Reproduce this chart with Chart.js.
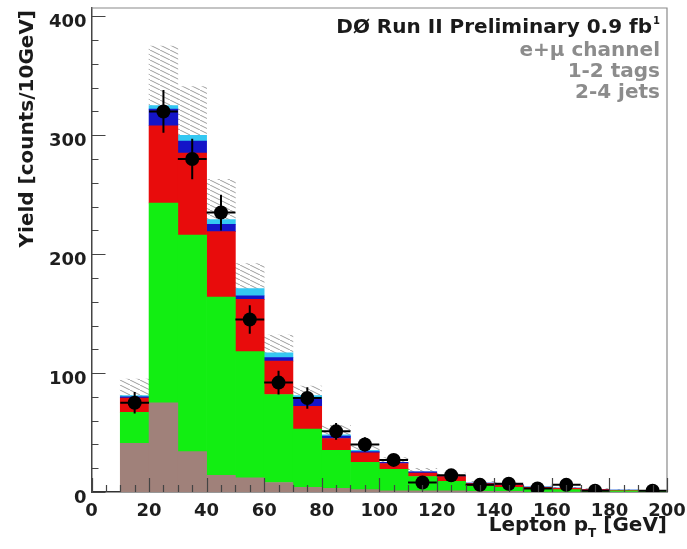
<!DOCTYPE html>
<html>
<head>
<meta charset="utf-8">
<script src="https://cdn.jsdelivr.net/npm/chart.js@4.4.1/dist/chart.umd.min.js"></script>
<style>
  html, body { margin: 0; padding: 0; background: #ffffff; }
  #wrap { width: 687px; height: 549px; position: relative; }
</style>
</head>
<body>
<div id="wrap"><canvas id="c" width="687" height="549"></canvas></div>
<script>
// Lepton pT bins (GeV): centres of 10 GeV wide bins from 10 to 200
const binCenters = [15, 25, 35, 45, 55, 65, 75, 85, 95, 105, 115, 125, 135, 145, 155, 165, 175, 185, 195];

// Stacked predictions, counts per 10 GeV (bottom to top)
const multijet  = [41, 75, 34, 14, 12, 8, 4, 3, 2, 1, 1, 1, 0.5, 0.5, 0, 0, 0, 0, 0];
const wJets     = [26, 168, 182, 150, 106, 74, 49, 32, 23, 18, 12, 8, 4.5, 3.5, 3, 2, 1.5, 1, 1];
const ttbar     = [12, 65, 69, 55, 44, 28, 19, 10, 8, 5, 3, 4, 2, 2, 1, 1, 0.5, 0.5, 0];
const zJets     = [1, 14, 10, 6, 3, 3, 6, 2, 1, 1, 1, 0.5, 0.5, 0.5, 0.2, 0.2, 0.1, 0.1, 0.1];
const singleTop = [1, 3, 5, 4, 6, 4, 3, 1, 1, 0, 0, 0.5, 0, 0, 0.1, 0.1, 0.1, 0, 0];
// Systematic band drawn on top of the prediction
const mcUncert  = [14, 50, 41, 34, 21, 15, 8, 8, 5, 4, 3, 2, 1.5, 1.5, 0.7, 0.7, 0.8, 0.4, 0.4];

// Observed events and their statistical errors
const dataCounts = [75, 320, 280, 235, 145, 92, 79, 51, 40, 27, 8, 14, 6, 7, 3, 6, 1, null, 1];
const dataErrors = [9, 18, 17, 15, 12, 10, 9, 7, 6, 5, 3, 4, 2.5, 2.6, 1.7, 2.5, 1, null, 1];

const binHalfWidth = 5;
const xTickLabels = [0, 20, 40, 60, 80, 100, 120, 140, 160, 180, 200];
const yTickLabels = [0, 100, 200, 300, 400];

const FONT = "'DejaVu Sans', 'Liberation Sans', sans-serif";

function toXY(values) {
  return binCenters.map((x, i) => ({ x: x, y: values[i] }));
}

function makeHatch(ctx) {
  const c = document.createElement('canvas');
  c.width = 10; c.height = 5;
  const g = c.getContext('2d');
  g.strokeStyle = '#9c9c9c';
  g.lineWidth = 1;
  g.beginPath();
  for (const dx of [-10, 0, 10]) { g.moveTo(dx, 0); g.lineTo(dx + 10, 5); }
  g.stroke();
  return ctx.createPattern(c, 'repeat');
}

const canvas = document.getElementById('c');
const ctx = canvas.getContext('2d');

// Error bars, inward ticks, tick labels, frame and annotation text
const decorations = {
  id: 'decorations',
  afterDatasetsDraw(chart) {
    const { x, y } = chart.scales;
    const g = chart.ctx;
    g.save();
    g.strokeStyle = '#000';
    g.lineWidth = 2;
    binCenters.forEach((c, i) => {
      const v = dataCounts[i];
      if (v === null) return;
      const e = dataErrors[i];
      const px = x.getPixelForValue(c);
      const py = y.getPixelForValue(v);
      g.beginPath();
      g.moveTo(px, y.getPixelForValue(v + e));
      g.lineTo(px, y.getPixelForValue(Math.max(0, v - e)));
      g.moveTo(x.getPixelForValue(c - binHalfWidth), py);
      g.lineTo(x.getPixelForValue(c + binHalfWidth), py);
      g.stroke();
    });
    g.restore();
  },
  afterDraw(chart) {
    const { x, y } = chart.scales;
    const area = chart.chartArea;
    const g = chart.ctx;
    g.save();
    // frame top / right
    g.strokeStyle = '#8a8a8a';
    g.lineWidth = 1.2;
    g.beginPath();
    g.moveTo(area.left, area.top);
    g.lineTo(area.right, area.top);
    g.lineTo(area.right, area.bottom);
    g.stroke();

    // inward ticks
    g.strokeStyle = '#444';
    g.lineWidth = 1.2;
    g.beginPath();
    for (let v = 0; v <= 400; v += 20) {
      const py = Math.round(y.getPixelForValue(v)) + 0.5;
      const len = v % 100 === 0 ? 14 : 7;
      g.moveTo(area.left, py);
      g.lineTo(area.left + len, py);
    }
    for (let v = 0; v <= 200; v += 5) {
      const px = Math.round(x.getPixelForValue(v)) + 0.5;
      const len = v % 20 === 0 ? 14 : 7;
      g.moveTo(px, area.bottom);
      g.lineTo(px, area.bottom - len);
    }
    g.stroke();

    // tick labels
    g.fillStyle = '#1e1e1e';
    g.font = `bold 18px ${FONT}`;
    g.textBaseline = 'alphabetic';
    g.textAlign = 'right';
    yTickLabels.forEach(v => {
      g.fillText(String(v), area.left - 5, y.getPixelForValue(v) + 11);
    });
    g.textAlign = 'center';
    xTickLabels.forEach(v => {
      g.fillText(String(v), x.getPixelForValue(v), area.bottom + 24);
    });

    // experiment label block
    g.textAlign = 'right';
    g.fillStyle = '#1a1a1a';
    g.font = `bold 10px ${FONT}`;
    const supW = g.measureText('1').width;
    g.fillText('1', 660, 24);
    g.font = `bold 20px ${FONT}`;
    g.fillText('DØ Run II Preliminary 0.9 fb', 660 - supW - 1, 33);
    g.fillStyle = '#8c8c8c';
    g.fillText('e+μ channel', 660, 56);
    g.fillText('1-2 tags', 660, 77);
    g.fillText('2-4 jets', 660, 98);

    // x-axis title with subscript
    g.fillStyle = '#1a1a1a';
    g.textAlign = 'left';
    g.font = `bold 20px ${FONT}`;
    const t1 = 'Lepton p', t3 = ' [GeV]';
    const w1 = g.measureText(t1).width, w3 = g.measureText(t3).width;
    g.font = `bold 12px ${FONT}`;
    const w2 = g.measureText('T').width;
    const sx = 667 - (w1 + w2 + w3);
    g.font = `bold 20px ${FONT}`;
    g.fillText(t1, sx, 531);
    g.font = `bold 12px ${FONT}`;
    g.fillText('T', sx + w1, 537);
    g.font = `bold 20px ${FONT}`;
    g.fillText(t3, sx + w1 + w2, 531);

    // y-axis title
    g.translate(28, 10);
    g.rotate(-Math.PI / 2);
    g.textAlign = 'right';
    g.textBaseline = 'middle';
    g.fillText('Yield [counts/10GeV]', 0, 0);
    g.restore();
  }
};

const hatch = makeHatch(ctx);

new Chart(ctx, {
  type: 'bar',
  data: {
    datasets: [
      { label: 'Multijet', data: toXY(multijet), backgroundColor: '#a0817a', stack: 'mc' },
      { label: 'W+jets', data: toXY(wJets), backgroundColor: '#12ee12', stack: 'mc' },
      { label: 'ttbar', data: toXY(ttbar), backgroundColor: '#e80c0c', stack: 'mc' },
      { label: 'Z+jets', data: toXY(zJets), backgroundColor: '#1414c8', stack: 'mc' },
      { label: 'Single top', data: toXY(singleTop), backgroundColor: '#34c8f2', stack: 'mc' },
      { label: 'Uncertainty', data: toXY(mcUncert), backgroundColor: hatch, stack: 'mc' },
      {
        type: 'scatter', label: 'Data', stack: 'data', order: -1,
        data: toXY(dataCounts).filter(p => p.y !== null),
        pointRadius: 7, pointBackgroundColor: '#000', pointBorderColor: '#000', pointBorderWidth: 0
      }
    ]
  },
  options: {
    responsive: false,
    animation: false,
    layout: { padding: { top: 8, right: 20, left: 0, bottom: 0 } },
    datasets: { bar: { barPercentage: 1, categoryPercentage: 1, borderWidth: 0 } },
    plugins: { legend: { display: false }, tooltip: { enabled: false } },
    scales: {
      x: {
        type: 'linear', min: 0, max: 200, stacked: true, offset: false,
        grid: { display: false, drawTicks: false, offset: false },
        border: { display: true, color: '#333', width: 1.5 },
        ticks: { stepSize: 20, display: false },
        afterFit: (s) => { s.height = 57; }
      },
      y: {
        type: 'linear', min: 0, max: 407, stacked: true,
        grid: { display: false, drawTicks: false },
        border: { display: true, color: '#444', width: 1.5 },
        ticks: { stepSize: 100, includeBounds: false, display: false },
        afterFit: (s) => { s.width = 91.5; }
      }
    }
  },
  plugins: [decorations]
});
</script>
</body>
</html>
